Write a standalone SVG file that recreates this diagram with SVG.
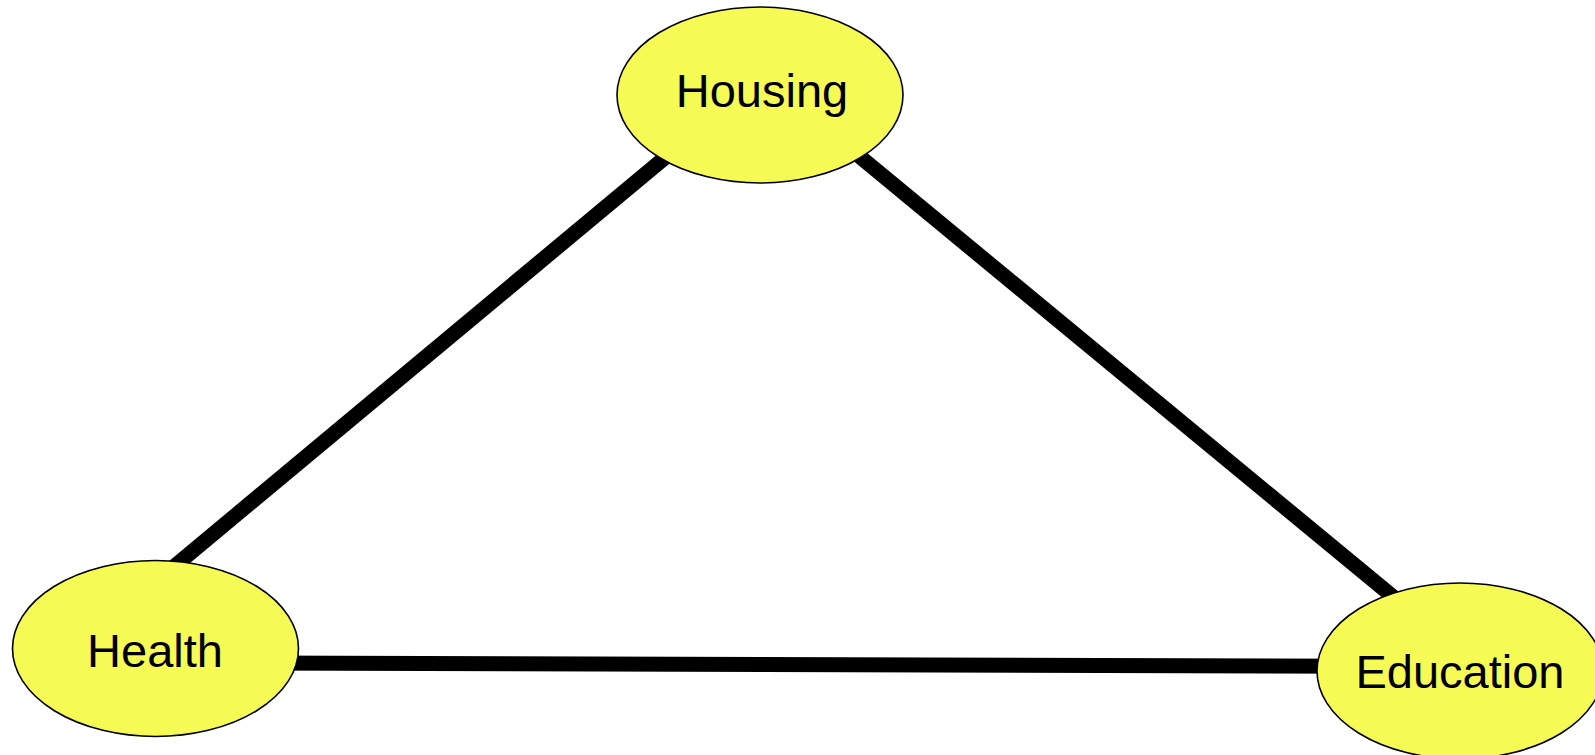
<svg xmlns="http://www.w3.org/2000/svg" width="1595" height="755" viewBox="0 0 1595 755">
<style>
.node ellipse{fill:#f5fa55;stroke:#000;stroke-width:1.6}
.node text{font-family:"Liberation Sans",Arial,sans-serif;font-size:47px;fill:#000;text-anchor:middle}
.edge{stroke:#000;stroke-width:15;fill:none}
</style>
<rect width="1595" height="755" fill="#fff"/>
<g id="connectors">
<line class="edge" x1="700" y1="128.4" x2="140" y2="595"/>
<line class="edge" x1="820" y1="123.8" x2="1420" y2="619"/>
<line class="edge" x1="250" y1="663" x2="1360" y2="666.3"/>
</g>
<g id="housing" class="node">
<ellipse cx="760" cy="95" rx="143" ry="88"/>
<text x="762" y="107">Housing</text>
</g>
<g id="health" class="node">
<ellipse cx="155.5" cy="648.5" rx="143" ry="88"/>
<text x="155" y="667">Health</text>
</g>
<g id="education" class="node">
<ellipse cx="1460" cy="671" rx="143" ry="88"/>
<text x="1460" y="688">Education</text>
</g>
</svg>
